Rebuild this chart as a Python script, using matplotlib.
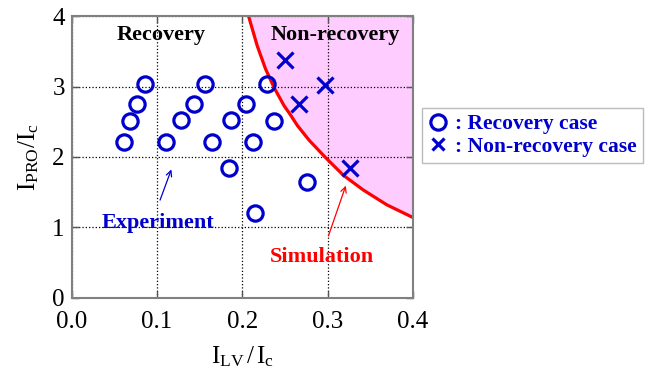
import matplotlib
matplotlib.use("Agg")
import matplotlib.pyplot as plt
from matplotlib.lines import Line2D

plt.rcParams['font.family'] = 'Liberation Serif'
plt.rcParams['mathtext.fontset'] = 'custom'
plt.rcParams['mathtext.rm'] = 'Liberation Serif'
plt.rcParams['mathtext.it'] = 'Liberation Serif:italic'

# experiment, recovery case (circles)
rec_x = [0.061, 0.068, 0.077, 0.086, 0.110, 0.128, 0.144, 0.156, 0.164,
         0.184, 0.187, 0.204, 0.213, 0.215, 0.229, 0.237, 0.276]
rec_y = [2.22, 2.51, 2.75, 3.04, 2.22, 2.52, 2.75, 3.04, 2.22,
         1.85, 2.52, 2.75, 2.22, 1.20, 3.04, 2.51, 1.65]

# experiment, non-recovery case (crosses)
non_x = [0.250, 0.267, 0.297, 0.326]
non_y = [3.38, 2.75, 3.02, 1.84]

# simulation boundary
sim_x = [0.2075, 0.2176, 0.2274, 0.2372, 0.249, 0.2565, 0.2645, 0.2783,
         0.297, 0.3186, 0.342, 0.3695, 0.40]
sim_y = [4.00, 3.58, 3.25, 2.99, 2.73, 2.60, 2.45, 2.24,
         2.00, 1.74, 1.53, 1.32, 1.14]

blue = '#0000cc'
red = '#ff0000'

fig = plt.figure(figsize=(6.46, 3.72), dpi=100)
ax = fig.add_axes([0.111, 0.200, 0.528, 0.756])

ax.fill_between(sim_x, sim_y, 4, color='#ffccff', zorder=0)
ax.plot(sim_x, sim_y, color=red, lw=2.3, zorder=2)

ax.plot(rec_x, rec_y, 'o', ms=11, mfc='none', mec=blue, mew=2.3, zorder=3)
ax.plot(non_x, non_y, 'x', ms=12, mec=blue, mew=2.3, zorder=3)

ax.set_xlim(0, 0.4)
ax.set_ylim(0, 4)
ax.set_xticks([0.0, 0.1, 0.2, 0.3, 0.4])
ax.set_xticklabels(['0.0', '0.1', '0.2', '0.3', '0.4'])
ax.set_yticks([0, 1, 2, 3, 4])
ax.tick_params(direction='in', top=True, right=True, labelsize=18,
               length=5, width=1, color='#555555')
ax.tick_params(axis='x', pad=10)
ax.tick_params(axis='y', pad=5)
ax.grid(True, linestyle=':', color='black', lw=0.9)
for s in ax.spines.values():
    s.set_color('#808080')
    s.set_linewidth(1.5)

ax.set_xlabel(r'$\mathregular{I_{LV}\,/\,I_c}$', fontsize=18, labelpad=8)
ax.set_ylabel(r'$\mathregular{I_{PRO}/I_c}$', fontsize=18, labelpad=8)

ax.text(0.105, 3.74, 'Recovery', fontsize=16, fontweight='bold',
        ha='center', va='center')
ax.text(0.309, 3.74, 'Non-recovery', fontsize=16, fontweight='bold',
        ha='center', va='center')

ax.annotate('', xy=(0.118, 1.86), xytext=(0.1025, 1.35),
            arrowprops=dict(arrowstyle='->', color=blue, lw=0.9))
ax.text(0.101, 1.06, 'Experiment', fontsize=16, fontweight='bold',
        color=blue, ha='center', va='center')

ax.annotate('', xy=(0.3225, 1.63), xytext=(0.300, 0.84),
            arrowprops=dict(arrowstyle='->', color=red, lw=0.9))
ax.text(0.293, 0.574, 'Simulation', fontsize=16, fontweight='bold',
        color=red, ha='center', va='center')

handles = [
    Line2D([], [], ls='none', marker='o', ms=11, mfc='none', mec=blue, mew=2.3),
    Line2D([], [], ls='none', marker='x', ms=8, mec=blue, mew=2.3),
]
leg = fig.legend(handles, [': Recovery case', ': Non-recovery case'],
                 loc='upper left', bbox_to_anchor=(0.654, 0.71),
                 frameon=True, fancybox=False, edgecolor='#aaaaaa',
                 handlelength=0.8, handletextpad=0.4, borderpad=0.3,
                 labelspacing=0.1, borderaxespad=0,
                 prop={'size': 15.5, 'weight': 'bold'})
for t in leg.get_texts():
    t.set_color(blue)

fig.savefig('out.png', dpi=100)
